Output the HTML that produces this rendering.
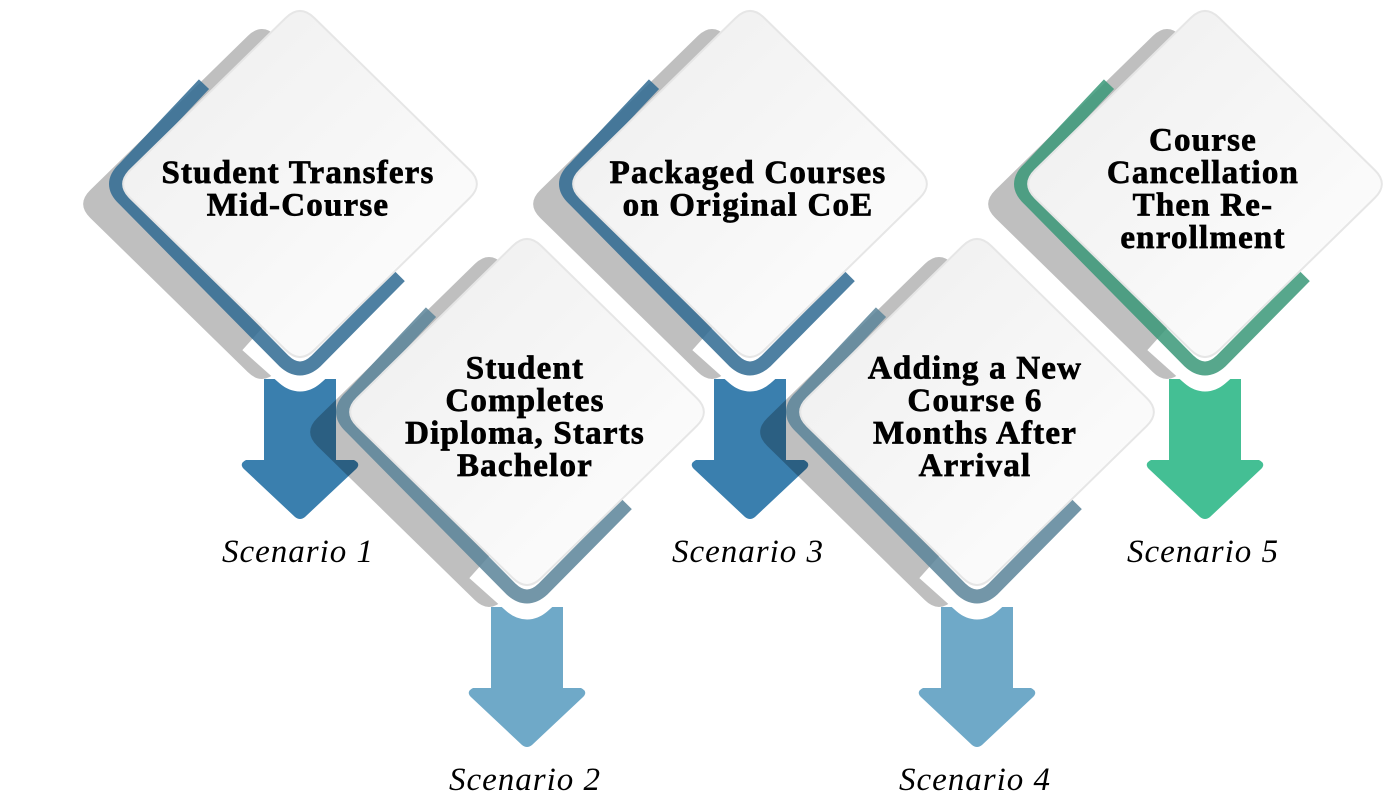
<!DOCTYPE html>
<html><head><meta charset="utf-8"><style>
html,body{margin:0;padding:0;background:#fff;width:1400px;height:800px;overflow:hidden}
svg{display:block}
.t{font-family:"Liberation Serif",serif;font-weight:bold;font-size:33px;letter-spacing:1.2px;fill:#000;stroke:#000;stroke-width:0.7;text-anchor:middle}
.s{font-family:"Liberation Serif",serif;font-style:italic;font-size:33px;letter-spacing:1px;fill:#000;text-anchor:middle}
</style></head><body>
<svg id="sv" width="1400" height="800" xmlns="http://www.w3.org/2000/svg">
<defs>
<linearGradient id="wg" x1="0" y1="0" x2="1" y2="1">
<stop offset="0" stop-color="#eeeeee"/><stop offset="0.5" stop-color="#f6f6f6"/><stop offset="1" stop-color="#ffffff"/></linearGradient>
</defs>
<g id="g"></g>
</svg>
<script>
function rd(cx,cy,hw,hh,r){
 var P=[[cx,cy-hh],[cx+hw,cy],[cx,cy+hh],[cx-hw,cy]];
 var L=Math.hypot(hw,hh),t=r/L,d='';
 for(var i=0;i<4;i++){
  var p=P[i],a=P[(i+3)%4],b=P[(i+1)%4];
  var s=[p[0]+(a[0]-p[0])*t,p[1]+(a[1]-p[1])*t],e=[p[0]+(b[0]-p[0])*t,p[1]+(b[1]-p[1])*t];
  d+=(i?'L':'M')+s[0]+' '+s[1]+'Q'+p[0]+' '+p[1]+' '+e[0]+' '+e[1];
 }
 return d+'Z';
}
var items=[
 {x:300,y:184,band:'#2f6a92',arrow:'#3a7fae',lines:['Student Transfers','Mid-Course'],lab:'Scenario 1'},
 {x:527,y:412,band:'#5a8499',arrow:'#6fa9c8',lines:['Student','Completes','Diploma, Starts','Bachelor'],lab:'Scenario 2'},
 {x:750,y:184,band:'#2f6a92',arrow:'#3a7fae',lines:['Packaged Courses','on Original CoE'],lab:'Scenario 3'},
 {x:977,y:412,band:'#5a8499',arrow:'#6fa9c8',lines:['Adding a New','Course 6','Months After','Arrival'],lab:'Scenario 4'},
 {x:1205,y:184,band:'#3a9878',arrow:'#44bf94',lines:['Course','Cancellation','Then Re-','enrollment'],lab:'Scenario 5'}
];
var h='';
items.forEach(function(o){
 var x=o.x,y=o.y;
 h+='<path d="'+rd(x-38,y+20,186,182,20)+'" fill="rgba(0,0,0,0.25)"/>';
 var st=y+195,ht=y+276,tip=y+336;
 h+='<path d="M'+(x-36)+' '+st+'L'+(x+36)+' '+st+'L'+(x+36)+' '+ht+'L'+(x+54)+' '+ht+'Q'+(x+62)+' '+(ht+4)+' '+(x+55)+' '+(ht+10)+'L'+(x+5)+' '+(tip-3)+'Q'+x+' '+(tip+1)+' '+(x-5)+' '+(tip-3)+'L'+(x-55)+' '+(ht+10)+'Q'+(x-62)+' '+(ht+4)+' '+(x-54)+' '+ht+'L'+(x-36)+' '+ht+'Z" fill="'+o.arrow+'"/>';
 h+='<path d="M'+(x-45)+' '+(y+152)+'L'+(x-8)+' '+(y+185)+'Q'+x+' '+(y+192)+' '+(x+8)+' '+(y+185)+'L'+(x+45)+' '+(y+152)+'" fill="none" stroke="#fff" stroke-width="38"/>';
 var R=192,bx=x,by=y;
 var p1=[bx-R*0.5,by-R*0.52],lc=[bx-R,by],bc=[bx,by+R],p2=[bx+R*0.52,by+R*0.48];
 h+='<path d="M'+p1[0]+' '+p1[1]+'L'+(lc[0]+16)+' '+(lc[1]-15)+'Q'+lc[0]+' '+lc[1]+' '+(lc[0]+16)+' '+(lc[1]+15)+'L'+(bc[0]-16)+' '+(bc[1]-15)+'Q'+bc[0]+' '+bc[1]+' '+(bc[0]+16)+' '+(bc[1]-15)+'L'+p2[0]+' '+p2[1]+'" fill="none" stroke="'+o.band+'" stroke-opacity="0.85" stroke-width="14"/>';
 h+='<path d="'+rd(x,y,184,180,20)+'" fill="url(#wg)" stroke="#e6e6e6" stroke-width="2"/>';
 var n=o.lines.length,lh=32.5,b0=y+15-(n-1)*lh/2;
 o.lines.forEach(function(l,i){h+='<text class="t" x="'+(x-2)+'" y="'+(b0+i*lh)+'">'+l+'</text>';});
 h+='<text class="s" x="'+(x-2)+'" y="'+(y+378)+'">'+o.lab+'</text>';
});
document.getElementById('g').innerHTML=h;
</script>
</body></html>
